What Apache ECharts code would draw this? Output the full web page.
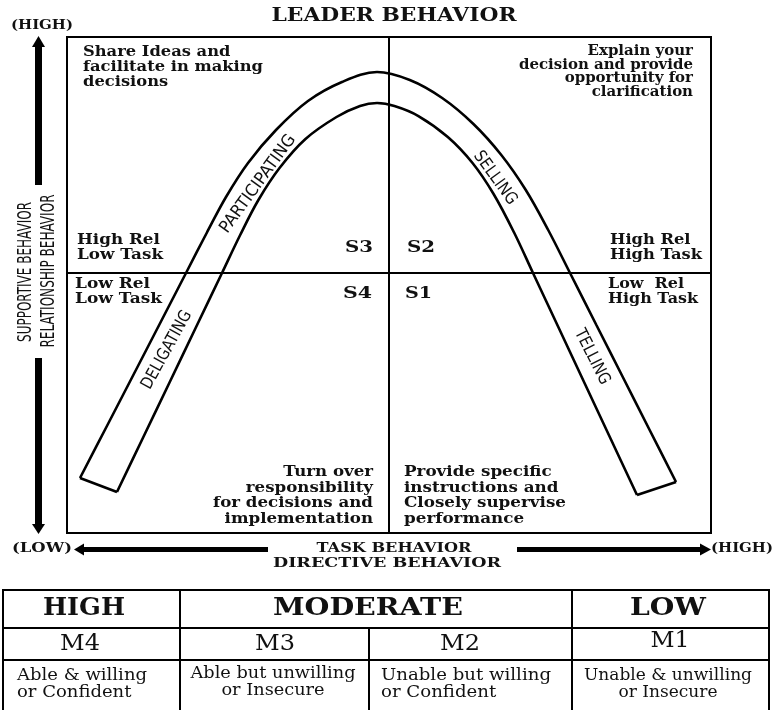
<!DOCTYPE html>
<html>
<head>
<meta charset="utf-8">
<title>Leader Behavior</title>
<script src="https://cdn.jsdelivr.net/npm/echarts@6/dist/echarts.min.js"></script>
<style>
  html, body { margin: 0; padding: 0; background: #fff; }
  #chart { width: 772px; height: 710px; }
</style>
</head>
<body>
<div id="chart"></div>
<script>
// the curve band, axis units: task behavior 0-100 across, relationship behavior 0-100 up
var outerCurve = [[2.02, 11.09], [6.12, 21.37], [10.30, 31.85], [14.39, 42.14], [18.48, 52.42],
  [21.77, 60.69], [24.69, 67.74], [28.11, 74.60], [32.45, 81.25], [37.42, 87.10], [42.70, 90.93],
  [48.14, 92.94], [53.23, 91.33], [58.26, 87.70], [63.11, 82.46], [67.44, 76.21], [71.24, 69.15],
  [74.72, 61.09], [78.11, 52.42], [82.22, 41.89], [86.34, 31.35], [90.45, 20.82], [94.57, 10.28]];
var innerCurve = [[7.76, 8.27], [11.84, 19.30], [15.92, 30.34], [19.99, 41.38], [24.07, 52.42],
  [26.89, 60.08], [29.72, 67.14], [33.00, 73.59], [37.03, 79.44], [41.85, 83.87], [45.50, 86.09],
  [48.14, 86.69], [50.84, 86.09], [54.57, 84.07], [59.13, 79.84], [62.97, 74.60], [66.24, 68.35],
  [69.46, 60.48], [72.36, 52.42], [76.40, 41.23], [80.43, 30.04], [84.47, 18.85], [88.51, 7.66]];
var taskMid = 50;
var relMid = 52.4;

var styleNames = ['DELIGATING', 'PARTICIPATING', 'SELLING', 'TELLING'];
var styleCodes = ['S4', 'S3', 'S2', 'S1'];
var quadrantMix = ['Low Rel\nLow Task', 'High Rel\nLow Task', 'High Rel\nHigh Task', 'Low  Rel\nHigh Task'];
var quadrantNotes = [
  'Turn over\nresponsibility\nfor decisions and\nimplementation',
  'Share Ideas and\nfacilitate in making\ndecisions',
  'Explain your\ndecision and provide\nopportunity for\nclarification',
  'Provide specific\ninstructions and\nClosely supervise\nperformance'
];
var maturityLevels = ['HIGH', 'MODERATE', 'LOW'];
var maturityCodes = ['M4', 'M3', 'M2', 'M1'];
var maturityNotes = ['Able & willing\nor Confident', 'Able but unwilling\nor Insecure',
  'Unable but willing\nor Confident', 'Unable & unwilling\nor Insecure'];

var SERIF = '"DejaVu Serif", "Liberation Serif", serif';
var NARROW = '"Liberation Sans Narrow", "DejaVu Sans Condensed", "Liberation Sans", sans-serif';

// horizontal stretch so a label (its longest line) spans the width it has in the picture
var measureCtx = document.createElement('canvas').getContext('2d');
function stretch(text, font, width) {
  measureCtx.font = font;
  var w = 0;
  text.split('\n').forEach(function (s) { w = Math.max(w, measureCtx.measureText(s).width); });
  return width / w;
}

function text(x, y, str, font, align, opts) {
  opts = opts || {};
  return {
    type: 'text', x: x, y: y, silent: true,
    rotation: (opts.deg || 0) * Math.PI / 180,
    scaleX: opts.width ? stretch(str, font, opts.width) : 1,
    style: {
      text: str, font: font, fill: '#111',
      align: align, verticalAlign: opts.va || 'middle',
      lineHeight: opts.lh
    }
  };
}

function line(x1, y1, x2, y2, w) {
  return { type: 'line', silent: true, shape: { x1: x1, y1: y1, x2: x2, y2: y2 },
    style: { stroke: '#000', lineWidth: w || 2 } };
}
function bar(x, y, w, h) {
  return { type: 'rect', silent: true, shape: { x: x, y: y, width: w, height: h }, style: { fill: '#000' } };
}
function arrow(points) {
  return { type: 'polygon', silent: true, shape: { points: points }, style: { fill: '#000' } };
}

var noteFont = 'bold 14px ' + SERIF;
var codeFont = 'bold 16px ' + SERIF;
var bandFont = '17px ' + NARROW;
var cellFont = '16px ' + SERIF;
var headFont = 'bold 24px ' + SERIF;

var graphics = [
  text(394, 16, 'LEADER BEHAVIOR', 'bold 18px ' + SERIF, 'center', { width: 245 }),
  text(42, 26, '(HIGH)', 'bold 13px ' + SERIF, 'center', { width: 62 }),

  // vertical axis arrows + title
  bar(35, 45, 7, 140),
  arrow([[32, 47], [38.5, 36], [45, 47]]),
  bar(35, 358, 7, 168),
  arrow([[32, 524], [38.5, 534], [45, 524]]),
  text(26, 272, 'SUPPORTIVE BEHAVIOR', '20px ' + NARROW, 'center', { deg: 90, width: 140 }),
  text(49, 271, 'RELATIONSHIP BEHAVIOR', '20px ' + NARROW, 'center', { deg: 90, width: 153 }),

  // horizontal axis arrows + title
  text(42, 549, '(LOW)', 'bold 13px ' + SERIF, 'center', { width: 60 }),
  bar(83, 547, 185, 5),
  arrow([[84, 543.5], [74, 549.5], [84, 555.5]]),
  bar(517, 547, 185, 5),
  arrow([[700, 543.5], [711, 549.5], [700, 555.5]]),
  text(711, 549, '(HIGH)', 'bold 13px ' + SERIF, 'left', { width: 62 }),
  text(394, 549, 'TASK BEHAVIOR', 'bold 12px ' + SERIF, 'center', { width: 155 }),
  text(387, 564, 'DIRECTIVE BEHAVIOR', 'bold 12px ' + SERIF, 'center', { width: 228 }),

  // quadrant texts
  text(83, 44.5, quadrantNotes[1], noteFont, 'left', { va: 'top', lh: 15, width: 180 }),
  text(693, 45, quadrantNotes[2], noteFont, 'right', { va: 'top', lh: 13.5, width: 174 }),
  text(373, 465, quadrantNotes[0], noteFont, 'right', { va: 'top', lh: 15.5, width: 160 }),
  text(404, 465, quadrantNotes[3], noteFont, 'left', { va: 'top', lh: 15.5, width: 162 }),
  text(77, 232.5, quadrantMix[1], noteFont, 'left', { va: 'top', lh: 15, width: 86 }),
  text(610, 232.5, quadrantMix[2], noteFont, 'left', { va: 'top', lh: 15, width: 92 }),
  text(75, 277.5, quadrantMix[0], noteFont, 'left', { va: 'top', lh: 14.5, width: 87 }),
  text(608, 277.5, quadrantMix[3], noteFont, 'left', { va: 'top', lh: 14.5, width: 90 }),
  text(373, 248, styleCodes[1], codeFont, 'right', { width: 28 }),
  text(407, 248, styleCodes[2], codeFont, 'left', { width: 28 }),
  text(372, 294, styleCodes[0], codeFont, 'right', { width: 29 }),
  text(405, 294, styleCodes[3], codeFont, 'left', { width: 27 }),

  // style names along the band
  text(167, 350, styleNames[0], bandFont, 'center', { deg: 61, width: 87 }),
  text(258, 184, styleNames[1], bandFont, 'center', { deg: 54, width: 117 }),
  text(495, 178, styleNames[2], bandFont, 'center', { deg: -54, width: 62 }),
  text(592, 357, styleNames[3], bandFont, 'center', { deg: -63, width: 60 }),

  // maturity table
  { type: 'rect', silent: true, shape: { x: 3, y: 590, width: 766, height: 130 },
    style: { fill: null, stroke: '#000', lineWidth: 2 } },
  line(3, 628, 769, 628),
  line(3, 660, 769, 660),
  line(180, 590, 180, 710),
  line(572, 590, 572, 710),
  line(369, 628, 369, 710),
  text(84, 609, maturityLevels[0], headFont, 'center', { width: 82 }),
  text(368, 609, maturityLevels[1], headFont, 'center', { width: 190 }),
  text(668, 609, maturityLevels[2], headFont, 'center', { width: 76 }),
  text(80, 644, maturityCodes[0], '22px ' + SERIF, 'center', { width: 40 }),
  text(275, 644, maturityCodes[1], '22px ' + SERIF, 'center', { width: 40 }),
  text(460, 644, maturityCodes[2], '22px ' + SERIF, 'center', { width: 40 }),
  text(670, 641, maturityCodes[3], '22px ' + SERIF, 'center', { width: 39 }),
  text(17, 668, maturityNotes[0], cellFont, 'left', { va: 'top', lh: 16.5, width: 130 }),
  text(273, 666, maturityNotes[1], cellFont, 'center', { va: 'top', lh: 16.5, width: 165 }),
  text(381, 668, maturityNotes[2], cellFont, 'left', { va: 'top', lh: 16.5, width: 170 }),
  text(668, 668, maturityNotes[3], cellFont, 'center', { va: 'top', lh: 16.5, width: 168 })
];

var hiddenAxis = {
  type: 'value', min: 0, max: 100,
  axisLine: { show: false }, axisTick: { show: false },
  axisLabel: { show: false }, splitLine: { show: false }
};

var curveStyle = { color: '#000', width: 2.6 };

var option = {
  backgroundColor: '#fff',
  animation: false,
  grid: { left: 67, top: 37, width: 644, height: 496, show: true, borderColor: '#000', borderWidth: 2 },
  xAxis: hiddenAxis,
  yAxis: hiddenAxis,
  series: [
    {
      name: 'outer', type: 'line', data: outerCurve, smooth: 0.35, symbol: 'none',
      lineStyle: curveStyle, silent: true,
      markLine: {
        silent: true, symbol: 'none', label: { show: false },
        lineStyle: { color: '#000', width: 2, type: 'solid' },
        data: [{ xAxis: taskMid }, { yAxis: relMid }]
      }
    },
    { name: 'inner', type: 'line', data: innerCurve, smooth: 0.35, symbol: 'none', lineStyle: curveStyle, silent: true },
    { name: 'leftEnd', type: 'line', data: [outerCurve[0], innerCurve[0]], symbol: 'none', lineStyle: curveStyle, silent: true },
    { name: 'rightEnd', type: 'line', data: [outerCurve[outerCurve.length - 1], innerCurve[innerCurve.length - 1]],
      symbol: 'none', lineStyle: curveStyle, silent: true }
  ],
  graphic: graphics
};

var chart = echarts.init(document.getElementById('chart'));
chart.setOption(option);
</script>
</body>
</html>
